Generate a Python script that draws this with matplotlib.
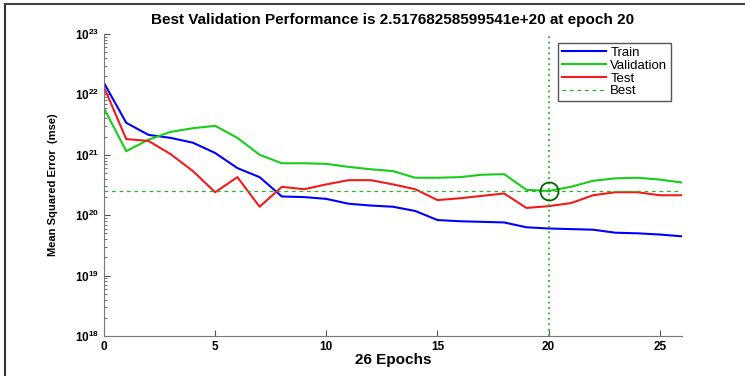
import numpy as np
import matplotlib.pyplot as plt
from matplotlib.lines import Line2D

plt.rcParams['font.family'] = ['Liberation Sans', 'DejaVu Sans']
plt.rcParams['mathtext.fontset'] = 'custom'
plt.rcParams['mathtext.bf'] = 'Liberation Sans:bold'
plt.rcParams['mathtext.rm'] = 'Liberation Sans:bold'

epochs = np.arange(27)
# log10 of mse per epoch
train_log = [22.19, 21.53, 21.33, 21.28, 21.20, 21.03, 20.78, 20.63, 20.31, 20.30,
             20.27, 20.19, 20.16, 20.14, 20.07, 19.92, 19.90, 19.89, 19.88, 19.80,
             19.78, 19.77, 19.76, 19.71, 19.70, 19.68, 19.65]
valid_log = [21.77, 21.06, 21.25, 21.38, 21.44, 21.48, 21.28, 21.00, 20.86, 20.86,
             20.85, 20.80, 20.76, 20.73, 20.62, 20.62, 20.63, 20.67, 20.68, 20.42,
             20.401, 20.47, 20.57, 20.61, 20.62, 20.59, 20.54]
test_log = [22.12, 21.26, 21.23, 21.01, 20.73, 20.38, 20.63, 20.14, 20.47, 20.43,
            20.51, 20.58, 20.58, 20.51, 20.43, 20.25, 20.28, 20.32, 20.36, 20.12,
            20.15, 20.20, 20.33, 20.38, 20.38, 20.33, 20.33]
best_epoch = 20
best_perf = 2.51768258599541e+20
ytick_exp = [18, 19, 20, 21, 22, 23]
xticks = [0, 5, 10, 15, 20, 25]

train = 10.0 ** np.array(train_log)
valid = 10.0 ** np.array(valid_log)
test = 10.0 ** np.array(test_log)

fig = plt.figure(figsize=(7.45, 3.76), dpi=100)
ax = fig.add_axes([104/745, 1-336/376, 578/745, 302/376])

ax.plot(epochs, train, color=(0, 0, 1), lw=1.5, label='Train')
ax.plot(epochs, valid, color=(0.1, 0.8, 0.1), lw=1.5, label='Validation')
ax.plot(epochs, test, color=(0.95, 0.1, 0.1), lw=1.5, label='Test')
gc = (0.15, 0.7, 0.15)
ax.axhline(best_perf, color=gc, ls=(0, (3, 3)), lw=0.9)
ax.axvline(best_epoch, color=gc, ls=(0, (1, 2)), lw=1.3)
ax.plot([best_epoch], [best_perf], 'o', mfc='none', mec=(0, 0.4, 0), mew=1.3, ms=13)

ax.set_yscale('log')
ax.set_xlim(0, 26)
ax.set_ylim(1e18, 1e23)
ax.set_yticks([10.0 ** e for e in ytick_exp])
ax.set_yticklabels([r'$\mathbf{10^{%d}}$' % e for e in ytick_exp], fontsize=8.5)
ax.set_xticks(xticks)
ax.set_xticklabels([str(x) for x in xticks], fontsize=8.5, fontweight='bold')
ax.tick_params(which='both', direction='in', colors='#555555', labelcolor='black')
ax.tick_params(which='major', length=4)
ax.tick_params(which='minor', length=2)
for s in ['top', 'right']:
    ax.spines[s].set_visible(False)
for s in ['left', 'bottom']:
    ax.spines[s].set_color('#777777')

ax.set_title('Best Validation Performance is %s at epoch %d' % (repr(best_perf), best_epoch),
             fontsize=11, fontweight='bold', pad=7)
ax.set_xlabel('26 Epochs', fontsize=11, fontweight='bold', labelpad=0)
ax.set_ylabel('Mean Squared Error  (mse)', fontsize=8, fontweight='bold', labelpad=12)

handles = [Line2D([], [], color=(0, 0, 1), lw=1.5),
           Line2D([], [], color=(0.1, 0.8, 0.1), lw=1.5),
           Line2D([], [], color=(0.95, 0.1, 0.1), lw=1.5),
           Line2D([], [], color=gc, ls=(0, (3, 3)), lw=0.9)]
leg = ax.legend(handles, ['Train', 'Validation', 'Test', 'Best'], loc='upper right',
                bbox_to_anchor=(678/745, 1-36/376), bbox_transform=fig.transFigure,
                fontsize=9.5, fancybox=False, framealpha=1, edgecolor='#555555',
                borderpad=0.3, labelspacing=0.05, handlelength=3.4, handletextpad=0.3)
leg.get_frame().set_linewidth(1.0)

fig.add_artist(Line2D([5/745, 5/745], [0, 1-4/376], color='#333333', lw=1.5))
fig.add_artist(Line2D([5/745, 1], [1-4/376, 1-4/376], color='#444444', lw=1.5))

fig.savefig('out.png', dpi=100)
